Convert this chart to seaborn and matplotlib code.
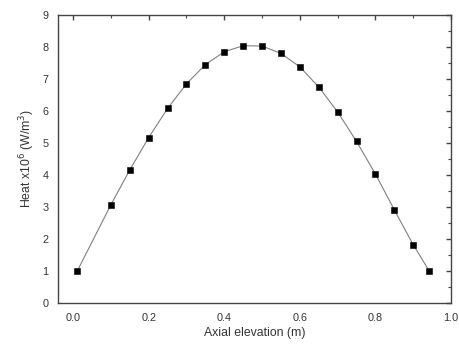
import matplotlib
matplotlib.use("Agg")
import matplotlib.pyplot as plt
import seaborn as sns
import pandas as pd
from matplotlib.ticker import MultipleLocator, FormatStrFormatter

elevation = [0.011, 0.10, 0.15, 0.20, 0.25, 0.30, 0.35, 0.40, 0.45, 0.50,
             0.55, 0.60, 0.65, 0.70, 0.75, 0.80, 0.85, 0.90, 0.943]
heat = [1.00, 3.07, 4.16, 5.17, 6.08, 6.85, 7.45, 7.85, 8.04, 8.03,
        7.80, 7.38, 6.75, 5.97, 5.05, 4.03, 2.91, 1.82, 0.99]
df = pd.DataFrame({"x": elevation, "y": heat})

sns.set_style("white")
plt.rcParams["font.family"] = ["Liberation Sans", "DejaVu Sans"]

fig = plt.figure(figsize=(4.6, 3.47), dpi=100)
ax = fig.add_axes([58/460, 1 - 303/347, (451-58)/460, (303-15)/347])

sns.lineplot(data=df, x="x", y="y", ax=ax, color="#808080", linewidth=0.8)
sns.scatterplot(data=df, x="x", y="y", ax=ax, marker="s", color="black",
                s=24, edgecolor="black", linewidth=0.4, zorder=3)

ax.set_xlim(-0.04, 1.0)
ax.set_ylim(0, 9)
ax.xaxis.set_major_locator(MultipleLocator(0.2))
ax.xaxis.set_minor_locator(MultipleLocator(0.1))
ax.yaxis.set_major_locator(MultipleLocator(1))
ax.yaxis.set_minor_locator(MultipleLocator(0.5))
ax.xaxis.set_major_formatter(FormatStrFormatter("%.1f"))

for s in ax.spines.values():
    s.set_color("#444444")
    s.set_linewidth(1.0)

ax.tick_params(axis="both", which="both", direction="out", color="#444444",
               labelsize=7.8, labelcolor="#333333", top=False, right=False)
ax.tick_params(which="major", length=3.5, width=1.0)
ax.tick_params(which="minor", length=2, width=0.8)

# inward ticks on top and right
axt = ax.secondary_xaxis("top")
axt.xaxis.set_major_locator(MultipleLocator(0.2))
axt.xaxis.set_minor_locator(MultipleLocator(0.1))
axt.tick_params(which="both", direction="in", color="#444444", labeltop=False)
axt.tick_params(which="major", length=3.5, width=1.0)
axt.tick_params(which="minor", length=2, width=0.8)
axt.spines["top"].set_visible(False)
axr = ax.secondary_yaxis("right")
axr.yaxis.set_major_locator(MultipleLocator(1))
axr.yaxis.set_minor_locator(MultipleLocator(0.5))
axr.tick_params(which="both", direction="in", color="#444444", labelright=False)
axr.tick_params(which="major", length=3.5, width=1.0)
axr.tick_params(which="minor", length=2, width=0.8)
axr.spines["right"].set_visible(False)

ax.set_xlabel("Axial elevation (m)", fontsize=8.8, color="#333333", labelpad=3)
ax.set_ylabel(r"Heat x10$^{6}$ (W/m$^{3}$)", fontsize=8.8, color="#333333", labelpad=4)

fig.savefig("out.png", dpi=100)
